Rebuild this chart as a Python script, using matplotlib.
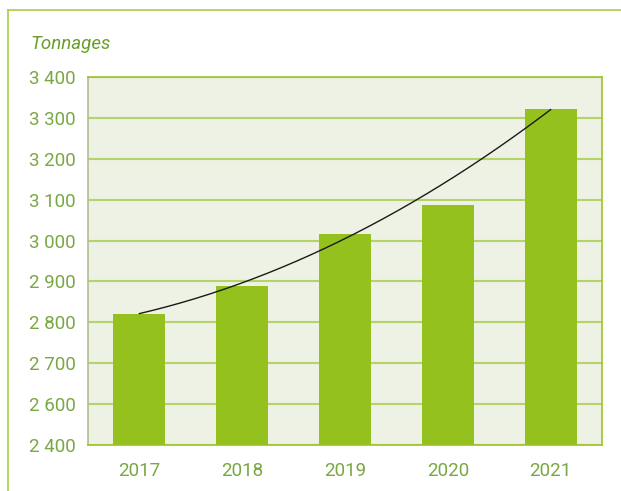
import matplotlib
matplotlib.use("Agg")
import matplotlib.pyplot as plt
import numpy as np
from matplotlib.lines import Line2D

years = ["2017", "2018", "2019", "2020", "2021"]
tonnages = [2820, 2889, 3017, 3088, 3321]
trend = [2820, 2900, 3003, 3145, 3321]
ytick_values = [2500, 2600, 2700, 2800, 2900, 3000, 3100, 3200, 3300, 3400]
ytick_labels = ["2 400", "2 600", "2 700", "2 800", "2 900", "3 000", "3 100", "3 200", "3 300", "3 400"]

bar_color = "#95c11f"
bg_color = "#eef2e4"
grid_color = "#b5d468"
text_color = "#79a843"
frame_color = "#a8cd45"

fig = plt.figure(figsize=(6.21, 4.91), dpi=100)
ax = fig.add_axes([88/621, 46/491, 514/621, 368/491])
ax.set_facecolor(bg_color)

x = np.arange(len(years))
ax.bar(x, tonnages, width=0.505, color=bar_color, zorder=3)

# smooth trend curve through read trend values
coef = np.polyfit(x, trend, 2)
xs = np.linspace(0, len(years) - 1, 200)
ax.plot(xs, np.polyval(coef, xs), color="#1a1a1a", lw=1.0, zorder=4)

ax.set_xlim(-0.5, len(years) - 0.5)
ax.set_ylim(2500, 3400)
ax.set_yticks(ytick_values)
ax.set_yticklabels(ytick_labels)
ax.set_xticks(x)
ax.set_xticklabels(years)
ax.yaxis.grid(True, color=grid_color, lw=1.5, zorder=1)
ax.set_axisbelow(True)
ax.tick_params(axis="both", length=0, colors=text_color, labelsize=13.5)
ax.tick_params(axis="y", pad=9)
ax.tick_params(axis="x", pad=12)
for lbl in ax.get_xticklabels() + ax.get_yticklabels():
    lbl.set_family("Roboto")
    lbl.set_fontweight("normal")
for side in ["top", "right", "bottom"]:
    ax.spines[side].set_color("#9cc42a")
    ax.spines[side].set_linewidth(1.2)
ax.spines["left"].set_color("#b3bd8a")
ax.spines["left"].set_linewidth(1.2)

fig.text(30/621, 1 - 44/491, "Tonnages", fontsize=13.5, style="italic", family="Roboto",
         fontweight="normal", color="#6a9e2a", va="center", ha="left")

# frame lines (top and left)
fig.add_artist(Line2D([8/621, 1], [1 - 10/491, 1 - 10/491], transform=fig.transFigure,
                      color=frame_color, lw=1.2))
fig.add_artist(Line2D([8/621, 8/621], [0, 1 - 10/491], transform=fig.transFigure,
                      color=frame_color, lw=1.2))

fig.savefig("out.png", dpi=100)
